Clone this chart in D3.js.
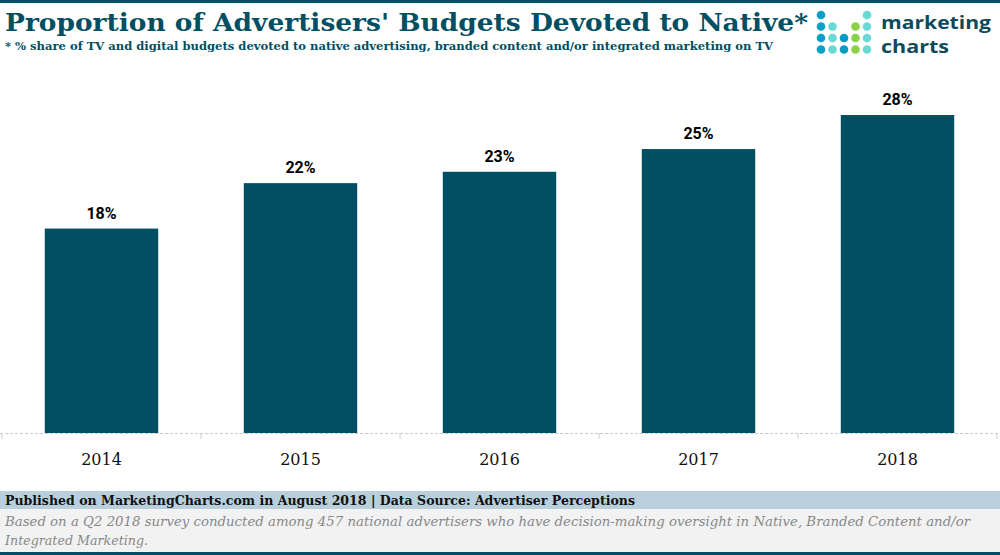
<!DOCTYPE html><html><head><meta charset="utf-8"><script src="https://cdn.jsdelivr.net/npm/d3@7"></script>
<style>body{margin:0}svg{display:block}</style></head><body><svg id="c" width="1000" height="555"></svg>
<script>
const categories=["2014","2015","2016","2017","2018"];
const values=[18,22,23,25,28];
const svg=d3.select("#c");
const F="'DejaVu Serif', serif";
const dark="#004f63";
svg.append("rect").attr("width",1000).attr("height",555).attr("fill","#fff");
svg.append("rect").attr("width",1000).attr("height",3).attr("fill",dark);
svg.append("text").attr("x",5).attr("y",31).attr("font-family",F).attr("font-weight","bold").attr("font-size",25).attr("fill",dark).attr("textLength",803).attr("lengthAdjust","spacingAndGlyphs").text("Proportion of Advertisers' Budgets Devoted to Native*");
svg.append("text").attr("x",5).attr("y",50).attr("font-family",F).attr("font-weight","bold").attr("font-size",11.5).attr("fill",dark).attr("textLength",768).attr("lengthAdjust","spacingAndGlyphs").text("* % share of TV and digital budgets devoted to native advertising, branded content and/or integrated marketing on TV");
const cols=[["#0aa0c8","#0aa0c8","#0aa0c8","#0aa0c8"],[null,"#6ad9d6","#6ad9d6","#6ad9d6"],[null,null,"#0a9cc4","#0a9cc4"],[null,"#8bd14a","#8bd14a","#8bd14a"],["#6ad9d6","#6ad9d6","#6ad9d6","#6ad9d6"]];
cols.forEach((c,i)=>c.forEach((col,j)=>{if(col)svg.append("circle").attr("cx",821+i*11.5).attr("cy",15+j*11.5).attr("r",4.3).attr("fill",col);}));
svg.append("text").attr("x",881).attr("y",29).attr("font-family","'Open Sans',sans-serif").attr("font-weight","700").attr("font-size",18).attr("fill","#0f4a5c").attr("textLength",110).attr("lengthAdjust","spacingAndGlyphs").text("marketing");
svg.append("text").attr("x",881).attr("y",53).attr("font-family","'Open Sans',sans-serif").attr("font-weight","700").attr("font-size",18).attr("fill","#0f4a5c").attr("textLength",68).attr("lengthAdjust","spacingAndGlyphs").text("charts");
const x=d3.scaleBand().domain(categories).range([2,997]).paddingInner(0.43).paddingOuter(0.215);
const y=d3.scaleLinear().domain([0,28]).range([433,115]);
svg.append("line").attr("x1",0).attr("x2",1000).attr("y1",433.5).attr("y2",433.5).attr("stroke","#ccc").attr("stroke-dasharray","3,2");
d3.range(6).forEach(i=>svg.append("line").attr("x1",2+i*199).attr("x2",2+i*199).attr("y1",433).attr("y2",439).attr("stroke","#ccc"));
svg.selectAll(".b").data(values).join("rect").attr("x",(d,i)=>x(categories[i])).attr("width",x.bandwidth()).attr("y",d=>y(d)).attr("height",d=>433-y(d)).attr("fill",dark);
svg.selectAll(".l").data(values).join("text").attr("x",(d,i)=>x(categories[i])+x.bandwidth()/2).attr("y",d=>y(d)-10).attr("text-anchor","middle").attr("font-family","Roboto,sans-serif").attr("font-weight","bold").attr("font-size",16).text(d=>d+"%");
svg.selectAll(".t").data(categories).join("text").attr("x",d=>x(d)+x.bandwidth()/2).attr("y",465).attr("text-anchor","middle").attr("font-family",F).attr("font-size",16).attr("fill","#111").text(d=>d);
svg.append("rect").attr("y",491).attr("width",1000).attr("height",18).attr("fill","#b9d0dc");
svg.append("rect").attr("y",509).attr("width",1000).attr("height",43).attr("fill","#f2f2f2");
svg.append("rect").attr("y",552).attr("width",1000).attr("height",3).attr("fill",dark);
svg.append("text").attr("x",5).attr("y",505).attr("font-family",F).attr("font-weight","bold").attr("font-size",13).attr("fill","#111").attr("textLength",630).attr("lengthAdjust","spacingAndGlyphs").text("Published on MarketingCharts.com in August 2018 | Data Source: Advertiser Perceptions");
svg.append("text").attr("x",5).attr("y",526).attr("font-family",F).attr("font-style","italic").attr("font-size",12.5).attr("fill","#888").attr("textLength",965).attr("lengthAdjust","spacingAndGlyphs").text("Based on a Q2 2018 survey conducted among 457 national advertisers who have decision-making oversight in Native, Branded Content and/or");
svg.append("text").attr("x",5).attr("y",545).attr("font-family",F).attr("font-style","italic").attr("font-size",12.5).attr("fill","#888").attr("textLength",143).attr("lengthAdjust","spacingAndGlyphs").text("Integrated Marketing.");
</script></body></html>
